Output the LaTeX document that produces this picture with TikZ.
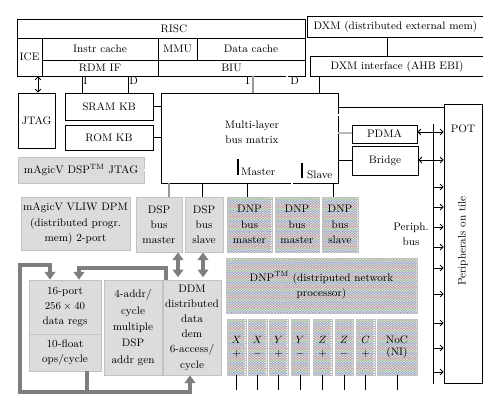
\documentclass[tikz,border=0pt]{standalone}
\usepackage{amsmath}
\usepackage{amssymb}
\usepackage{tikz}
\usetikzlibrary{calc,arrows.meta}
\usetikzlibrary{decorations.pathmorphing}

\definecolor{boxgray}{HTML}{DCDCDC}
\definecolor{edgegray}{HTML}{C2C2C2}
\definecolor{pipegray}{HTML}{7E7E7E}
\definecolor{zz0}{HTML}{C497A4}
\definecolor{zz1}{HTML}{9CBD97}
\definecolor{zz2}{HTML}{9AA2CC}
\definecolor{zz3}{HTML}{A8A8A8}

\begin{document}
\begin{tikzpicture}[x=0.03cm,y=-0.03cm,font=\fontsize{9.3}{13}\selectfont,
  corners/.style args={#1/#2/#3/#4}{at={({(#1+#3)/2},{(#2+#4)/2})},
    minimum width={(#3-#1)*0.03cm},minimum height={(#4-#2)*0.03cm}},
  box/.style={draw,line width=0.7pt,inner sep=0pt,align=center},
  graybox/.style={box,draw=edgegray,fill=boxgray},
  dnpbox/.style={box,draw=edgegray,fill=gray!8,path picture={
      \foreach \k [evaluate=\k as \c using {int(mod(\k,4))}] in {0,...,30}
        \draw[zz\c,line width=0.6pt,decorate,decoration={zigzag,amplitude=1pt,segment length=2.5pt}]
          ([yshift=-\k*2.1pt]path picture bounding box.north west) -- ([yshift=-\k*2.1pt]path picture bounding box.north east);
    }},
  thickgray/.style={draw=gray!80,line width=2pt},
  smallarrow/.style={line width=0.7pt,>={Straight Barb[length=2.5pt,width=5pt]}},
  bigpipe/.style={draw=pipegray,line width=4.2pt,>={Triangle[width=9pt,length=6.5pt]}}]
  \useasboundingbox (0,0) rectangle (500,412);

  % RISC block
  \node[box,corners=17/19/305/38] (risc) {};
  \node (risctxt) at (174,28.5) {RISC};
  \node[box,corners=17/38/42/76] (ice) {ICE};
  \node[box,corners=42/38/158/60] (icache) {Instr cache};
  \node[box,corners=158/38/197/60] (mmu) {MMU};
  \node[box,corners=197/38/305/60] (dcache) {Data cache};
  \node[box,corners=42/60/158/76] (rdmif) {RDM IF};
  \node[box,corners=158/60/305/76] (biu) {BIU};

  % external memory
  \node[inner sep=0pt,corners=308/17/483/37] (dxm) {DXM (distributed external mem)};
  \node[inner sep=0pt,corners=311/57/483/76] (dxmif) {DXM interface (AHB EBI)};
  \draw[line width=0.7pt] (dxm.north east) -- (dxm.north west) -- (dxm.south west) -- (dxm.south east);
  \draw[line width=0.7pt] (dxmif.north east) -- (dxmif.north west) -- (dxmif.south west) -- (dxmif.south east);
  \draw[line width=0.7pt] (387,0 |- dxm.south) -- (387,0 |- dxmif.north);

  \node[box,corners=18/93/55/148] (jtag) {JTAG};
  \node[box,corners=65/93/153/120] (sram) {SRAM KB};
  \node[box,corners=65/125/153/150] (rom) {ROM KB};
  \node[graybox,corners=18/157/144/183] (dspjtag) {mAgicV DSP\textsuperscript{TM} JTAG};

  \node[box,corners=161/93/338/183] (bus) {};
  \node[align=center] (bustxt) at (252,132) {Multi-layer\\bus matrix};
  \draw[line width=1.2pt] (238,159) -- (238,175);
  \node[anchor=base west,inner sep=0pt] (mlab) at (241,175) {Master};
  \draw[line width=1.2pt] (302,163) -- (302,178);
  \node[anchor=base west,inner sep=0pt] (slab) at (307,178) {Slave};

  \draw[smallarrow,<->] (38,0 |- ice.south) -- (38,0 |- jtag.north);
  \draw[line width=0.7pt] (82,0 |- rdmif.south) -- (82,0 |- sram.north);
  \draw[line width=0.7pt] (128,0 |- rdmif.south) -- (128,0 |- sram.north);
  \node[anchor=north west,inner sep=1pt] (li1) at (82,76) {I};
  \node[anchor=north west,inner sep=1pt] (ld1) at (128,76) {D};
  \draw[thickgray] (253,0 |- biu.south) -- (253,0 |- bus.north);
  \draw[line width=0.5pt,double,double distance=1.2pt] (287,0 |- biu.south) -- (287,0 |- bus.north);
  \node[anchor=north east,inner sep=1pt] (li2) at (251,76) {I};
  \node[anchor=north west,inner sep=1pt] (ld2) at (289,76) {D};
  \draw[line width=0.7pt] (319,0 |- dxmif.south) -- (319,0 |- bus.north);
  \draw[line width=0.7pt] (sram.east) -- (bus.west |- sram.east);
  \draw[line width=0.7pt] (rom.east) -- (bus.west |- rom.east);
  \draw[line width=0.5pt,double,double distance=1.2pt] (dspjtag.east) -- (bus.west |- dspjtag.east);

  % peripherals
  \node[box,corners=352/125/417/143] (pdma) {PDMA};
  \node[box,corners=352/146/418/175] (bridge) {Bridge};
  \node[box,corners=444/104/482/383] (pot) {};
  \node (pottxt) at (463,129) {POT};
  \node[rotate=90] (pottile) at (463,241) {Peripherals on tile};
  \coordinate (pbtop) at (433,124);
  \coordinate (pbbot) at (433,384);
  \draw[line width=0.7pt] (pbtop) -- (pbbot);
  \node[align=center] (pblab) at (411,234) {Periph.\\bus};
  \draw[line width=0.7pt] (bus.east |- 0,107) -- (pot.west |- 0,107);
  \draw[line width=0.5pt,double,double distance=1.2pt] (bus.east |- 0,115) -- (pot.west |- 0,115);
  \draw[thickgray,draw=gray!55] (bus.east |- 0,133) -- (pdma.west |- 0,133);
  \draw[line width=0.7pt] (bus.east |- 0,160) -- (bridge.west |- 0,160);
  \draw[smallarrow,<-] (pdma.east |- 0,132) -- (pbtop |- 0,132);
  \draw[smallarrow,<-] (bridge.east |- 0,160) -- (pbtop |- 0,160);
  \foreach \y in {132,160,187,207,227,247,268,294,323,348,372}
    \draw[smallarrow,->] (pbtop |- 0,\y) -- (pot.west |- 0,\y);

  % DSP and DNP
  \node[graybox,corners=21/197/130/250] (dpm) {mAgicV VLIW DPM\\(distributed progr.\\mem) 2-port};
  \node[graybox,corners=136/197/182/252] (dspm) {DSP\\bus\\master};
  \node[graybox,corners=185/197/223/252] (dsps) {DSP\\bus\\slave};
  \node[dnpbox,corners=227/197/272/252] (dnpma) {DNP\\bus\\master};
  \node[dnpbox,corners=275/197/319/252] (dnpmb) {DNP\\bus\\master};
  \node[dnpbox,corners=322/197/358/252] (dnps) {DNP\\bus\\slave};
  \node[dnpbox,corners=226/258/417/313] (dnp) {DNP\textsuperscript{TM} (distriputed network\\processor)};
  \foreach \n/\a/\b/\t in {xp/227/246/{$X$\\$+$},xm/248/267/{$X$\\$-$},yp/269/288/{$Y$\\$+$},ym/291/309/{$Y$\\$-$},
      zp/313/332/{$Z$\\$+$},zm/335/353/{$Z$\\$-$},cp/356/375/{$C$\\$+$},noc/377/417/{NoC\\(NI)}}
    \node[dnpbox,font=\fontsize{9.3}{11}\selectfont,corners=\a/319/\b/375] (\n) {\t};
  \foreach \n in {xp,xm,yp,ym,zp,zm,cp,noc}
    \draw[line width=0.7pt] (\n.south) -- ++(0,15);

  \draw[thickgray] (169,0 |- bus.south) -- (169,0 |- dspm.north);
  \draw[line width=0.7pt] (202,0 |- bus.south) -- (202,0 |- dsps.north);
  \draw[line width=0.7pt] (247,0 |- bus.south) -- (247,0 |- dnpma.north);
  \draw[line width=0.5pt,double,double distance=1.2pt] (292,0 |- bus.south) -- (292,0 |- dnpmb.north);
  \draw[line width=0.7pt] (333,0 |- bus.south) -- (333,0 |- dnps.north);

  % DSP core
  \node[graybox,corners=29/280/101/334] (regs) {16-port\\$256\times 40$\\data regs};
  \node[graybox,corners=29/334/101/371] (flops) {10-float\\ops/cycle};
  \node[graybox,font=\fontsize{9.3}{14}\selectfont,corners=104/280/162/375] (agen) {4-addr/\\cycle\\multiple\\DSP\\addr gen};
  \node[graybox,corners=163/280/221/375] (ddm) {DDM\\distributed\\data\\dem\\6-access/\\cycle};

  \draw[bigpipe] (87,0 |- flops.south) -- (87,392);
  \draw[bigpipe,<->] (50,0 |- regs.north) -- (50,265) -| (20,392) -| (190,0 |- ddm.south);
  \draw[bigpipe,->] (166,0 |- ddm.north) -- (166,268) -| (79,0 |- regs.north);
  \draw[bigpipe,<->,shorten >=2pt] (178,0 |- dspm.south) -- (178,0 |- ddm.north);
  \draw[bigpipe,<->,shorten >=2pt] (203,0 |- dsps.south) -- (203,0 |- ddm.north);
\end{tikzpicture}
\end{document}
